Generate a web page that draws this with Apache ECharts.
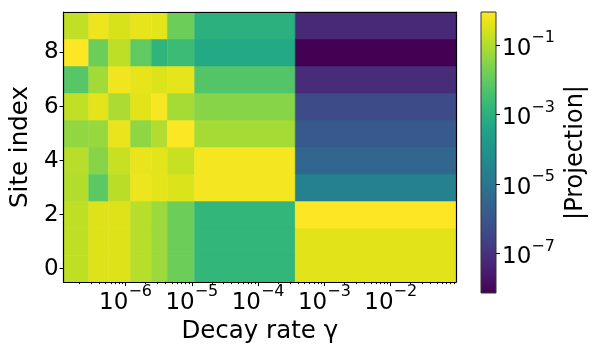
<!DOCTYPE html>
<html>
<head>
<meta charset="utf-8">
<script src="https://cdn.jsdelivr.net/npm/echarts@6/dist/echarts.min.js"></script>
<style>
  html, body { margin: 0; padding: 0; background: #fff; }
  #chart { width: 594px; height: 349px; }
</style>
</head>
<body>
<div id="chart"></div>
<script>
// column edges of the decay-rate grid (gamma), log x axis
const gammaEdges = [1.16e-7, 2.78e-7, 5.5e-7, 1.19e-6, 2.45e-6, 4.27e-6, 1.1e-5, 3.63e-4, 9.66e-2];
const siteIndex = [0, 1, 2, 3, 4, 5, 6, 7, 8, 9];
// log10 |Projection|, one row per site, one entry per gamma column
const logProjection = [
  [-0.83, -0.46, -0.46, -0.93, -1.26, -1.86, -2.79, -0.40],
  [-0.83, -0.46, -0.46, -0.93, -1.26, -1.86, -2.79, -0.40],
  [-0.83, -0.46, -0.46, -0.93, -1.26, -1.86, -2.79, -0.04],
  [-0.97, -2.11, -0.89, -0.26, -0.38, -0.49, -0.16, -4.58],
  [-0.93, -1.50, -0.73, -0.30, -0.38, -0.73, -0.16, -5.47],
  [-1.38, -1.30, -0.31, -1.40, -1.01, -0.06, -1.13, -5.87],
  [-0.81, -0.36, -1.05, -0.40, -0.12, -1.13, -1.50, -6.28],
  [-2.19, -1.17, -0.22, -0.34, -0.49, -0.35, -2.23, -7.13],
  [-0.04, -1.86, -0.85, -2.02, -2.88, -2.63, -3.24, -8.14],
  [-0.81, -0.24, -0.53, -0.34, -0.38, -1.86, -3.00, -7.21]
];
const xMajorTicks = [1e-6, 1e-5, 1e-4, 1e-3, 1e-2];
const yTicks = [0, 2, 4, 6, 8];
const cbarTicks = [-7, -5, -3, -1];
const cbarMin = -8.14, cbarMax = -0.04;

const viridis = ['#440154', '#471365', '#482475', '#463480', '#414487', '#3b528b', '#355f8d',
  '#2f6c8e', '#2a788e', '#25848e', '#21918c', '#1e9c89', '#22a884', '#2fb47c', '#44bf70',
  '#5ec962', '#7ad151', '#9bd93c', '#bddf26', '#dfe318', '#fde725'];

// minor ticks 2..9 x 10^k inside the range
const xMinorTicks = [];
for (let k = -7; k <= -2; k++) {
  for (let m = 2; m <= 9; m++) {
    const v = m * Math.pow(10, k);
    if (v > gammaEdges[0] && v < gammaEdges[gammaEdges.length - 1]) xMinorTicks.push(v);
  }
}

const cells = [];
siteIndex.forEach(function (s, r) {
  logProjection[r].forEach(function (v, c) {
    cells.push([gammaEdges[c], gammaEdges[c + 1], s, v]);
  });
});

const FONT = 'DejaVu Sans';
const supRich = {
  b: { fontSize: 23, fontFamily: FONT, color: '#000', lineHeight: 30, verticalAlign: 'bottom' },
  s: { fontSize: 16, fontFamily: FONT, color: '#000', lineHeight: 16, verticalAlign: 'top' }
};
function powLabel(exp) {
  return '{b|10}{s|\u2212' + Math.abs(exp) + '}';
}
const frameLine = { show: true, onZero: false, lineStyle: { color: '#000', width: 1.2 } };

const chart = echarts.init(document.getElementById('chart'), null, { renderer: 'canvas' });
chart.setOption({
  animation: false,
  backgroundColor: '#fff',
  grid: [
    { left: 61, top: 12, width: 395, height: 281 },
    { left: 481, top: 12, width: 15, height: 281 }
  ],
  visualMap: {
    show: false,
    type: 'continuous',
    seriesIndex: 0,
    dimension: 3,
    min: cbarMin,
    max: cbarMax,
    inRange: { color: viridis }
  },
  xAxis: [
    {
      type: 'log', logBase: 10, gridIndex: 0, position: 'bottom', z: 20,
      min: gammaEdges[0], max: gammaEdges[gammaEdges.length - 1],
      name: 'Decay rate \u03b3', nameLocation: 'middle', nameGap: 29,
      nameTextStyle: { fontSize: 24.5, fontFamily: FONT, color: '#000' },
      axisLine: frameLine,
      axisTick: { show: true, length: 4, customValues: xMajorTicks, lineStyle: { color: '#000' } },
      axisLabel: {
        customValues: xMajorTicks, margin: 2,
        formatter: function (v) { return powLabel(Math.round(Math.log10(v))); },
        rich: supRich
      },
      splitLine: { show: false }
    },
    {
      type: 'log', logBase: 10, gridIndex: 0, position: 'bottom', z: 20,
      min: gammaEdges[0], max: gammaEdges[gammaEdges.length - 1],
      axisLine: { show: false, onZero: false },
      axisTick: { show: true, length: 2, customValues: xMinorTicks, lineStyle: { color: '#000' } },
      axisLabel: { show: false },
      splitLine: { show: false }
    },
    {
      type: 'value', gridIndex: 0, position: 'top', min: 0, max: 1, z: 20,
      axisLine: frameLine,
      axisTick: { show: false }, axisLabel: { show: false }, splitLine: { show: false }
    },
    {
      type: 'value', gridIndex: 1, min: 0, max: 1, show: false
    }
  ],
  yAxis: [
    {
      type: 'value', gridIndex: 0, position: 'left', min: -0.5, max: 9.5, z: 20,
      name: 'Site index', nameLocation: 'middle', nameGap: 22,
      nameTextStyle: { fontSize: 24.5, fontFamily: FONT, color: '#000' },
      axisLine: frameLine,
      axisTick: { show: true, length: 4, customValues: yTicks, lineStyle: { color: '#000' } },
      axisLabel: { customValues: yTicks, margin: 5, fontSize: 23, fontFamily: FONT, color: '#000' },
      splitLine: { show: false }
    },
    {
      type: 'value', gridIndex: 0, position: 'right', min: 0, max: 1, z: 20,
      axisLine: frameLine,
      axisTick: { show: false }, axisLabel: { show: false }, splitLine: { show: false }
    },
    {
      type: 'value', gridIndex: 1, position: 'right', min: cbarMin, max: cbarMax, z: 20,
      name: '|Projection|', nameLocation: 'middle', nameGap: 68,
      nameTextStyle: { fontSize: 24, fontFamily: FONT, color: '#000' },
      axisLine: { show: false, onZero: false },
      axisTick: { show: true, length: 4, customValues: cbarTicks, lineStyle: { color: '#000' } },
      axisLabel: {
        customValues: cbarTicks, margin: 6,
        formatter: function (v) { return powLabel(v); },
        rich: supRich
      },
      splitLine: { show: false }
    }
  ],
  series: [
    {
      type: 'custom',
      z: 1,
      xAxisIndex: 0, yAxisIndex: 0,
      encode: { x: [0, 1], y: 2 },
      data: cells,
      renderItem: function (params, api) {
        const p0 = api.coord([api.value(0), api.value(2) - 0.5]);
        const p1 = api.coord([api.value(1), api.value(2) + 0.5]);
        return {
          type: 'rect',
          shape: { x: p0[0], y: p1[1], width: p1[0] - p0[0], height: p0[1] - p1[1] },
          style: { fill: api.visual('color'), stroke: api.visual('color'), lineWidth: 0.5 }
        };
      }
    },
    {
      type: 'custom',
      z: 1,
      xAxisIndex: 3, yAxisIndex: 2,
      data: [[0, cbarMin, 1, cbarMax]],
      encode: { x: [0, 2], y: [1, 3] },
      renderItem: function (params, api) {
        const p0 = api.coord([api.value(0), api.value(1)]);
        const p1 = api.coord([api.value(2), api.value(3)]);
        return {
          type: 'rect',
          shape: { x: p0[0], y: p1[1], width: p1[0] - p0[0], height: p0[1] - p1[1] },
          style: {
            fill: {
              type: 'linear', x: 0, y: 1, x2: 0, y2: 0,
              colorStops: viridis.map(function (c, i) { return { offset: i / (viridis.length - 1), color: c }; })
            },
            stroke: '#333', lineWidth: 1
          }
        };
      }
    }
  ]
});
</script>
</body>
</html>
